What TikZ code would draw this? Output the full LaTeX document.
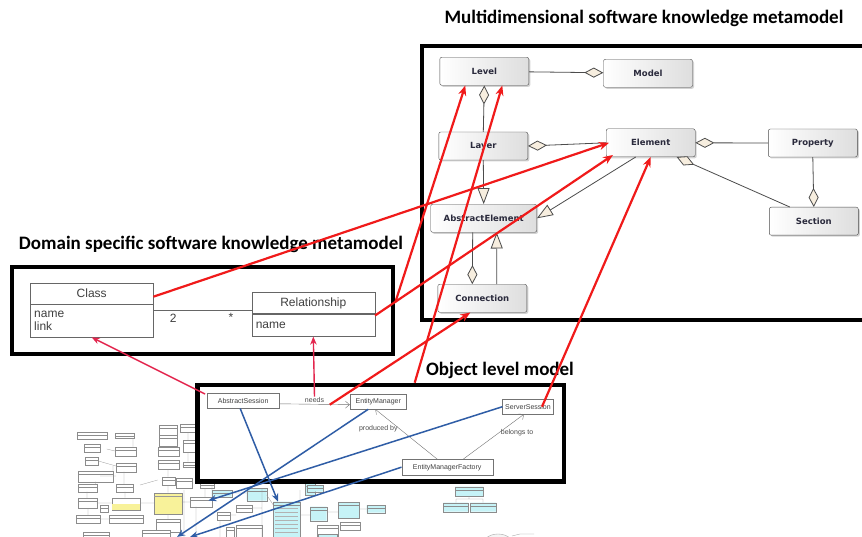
\documentclass[tikz,border=0pt]{standalone}
\usepackage{fontspec}
\usepackage{xcolor}
\usepackage{tikz}
\usetikzlibrary{arrows.meta, positioning, shadows}
\newfontfamily\hdfont{Carlito}
\newfontfamily\umlfnt{Liberation Sans}
\newfontfamily\mmfont{DejaVu Sans}
\definecolor{mmred}{HTML}{F01A1A}
\definecolor{mmpink}{HTML}{E3264E}
\definecolor{mmblue}{HTML}{2F5DA6}
\definecolor{mmbeige}{HTML}{F7EEDF}
\definecolor{mmtext}{HTML}{2A2A3C}
\definecolor{clcyan}{HTML}{C6F3F7}
\definecolor{clyellow}{HTML}{F8F29A}
\tikzset{
  heading/.style  = {font=\hdfont\bfseries\fontsize{19}{19}\selectfont,
                     inner sep=0pt},
  panel/.style    = {draw, line width=4pt, fill=white, inner sep=0pt},
  mmclass/.style  = {rectangle, rounded corners=2pt, draw=black!70, thin,
                     left color=white, right color=black!13,
                     drop shadow={shadow xshift=1.5pt, shadow yshift=-1.5pt,
                                  opacity=0.35},
                     minimum width=89pt, minimum height=28pt,
                     font=\mmfont\bfseries\fontsize{8.5}{9}\selectfont,
                     text=mmtext},
  aggr/.style     = {draw=black!70, line width=0.8pt,
                     -{Diamond[length=19pt,width=10pt,fill=mmbeige]}},
  gen/.style      = {draw=black!70, line width=0.8pt,
                     -{Triangle[length=16pt,width=12pt,fill=mmbeige]}},
  umlhead/.style  = {rectangle, draw=black!60, minimum width=123pt,
                     minimum height=20.7pt, inner sep=0pt,
                     font=\umlfnt\fontsize{12}{13}\selectfont, text=black!75},
  umlattr/.style  = {rectangle, draw=black!60, minimum width=123pt,
                     text width=115pt, inner xsep=4pt, inner ysep=2pt,
                     align=left, font=\umlfnt\fontsize{12}{13}\selectfont,
                     text=black!75},
  objcls/.style   = {rectangle, draw=black!55, inner sep=0pt,
                     font=\umlfnt\fontsize{7}{7}\selectfont, text=black!75},
  objlink/.style  = {draw=black!55, thin,
                     -{Straight Barb[length=4pt,width=7pt]}},
  linklbl/.style  = {font=\umlfnt\fontsize{7}{7}\selectfont, text=black!70,
                     inner sep=1pt},
  redarrow/.style = {draw=mmred, line width=2.2pt,
                     -{Stealth[length=10pt,width=8pt]}},
  pinkarrow/.style= {draw=mmpink, line width=1.4pt,
                     -{Stealth[length=8pt,width=6.5pt]}},
  bluearrow/.style= {draw=mmblue, line width=1.5pt,
                     -{Stealth[length=8pt,width=6.5pt]}},
  tinybox/.style  = {draw=black!45, line width=0.3pt, fill=white},
  tinyline/.style = {draw=black!40, line width=0.3pt},
}

\begin{document}
\begin{tikzpicture}[x=1pt, y=-1pt]
  \path[use as bounding box] (0,0) rectangle (862,537);
  \clip (0,0) rectangle (862,537);

  % background class diagram (object level, full size)
  \foreach \xa/\ya/\xb/\yb in {76.7/431.7/106.7/439.3, 115/432.7/134/438.3,
      84/444.3/100/452.3, 115/446.7/136/456, 85/456.7/98.3/465.3,
      116/462.7/136/471.7, 78.3/470.7/113.3/481.7, 78.3/484/96.7/491.7,
      116/484.3/133.3/491.7, 78.3/498.3/96.7/508.3, 76/515/100/523.3,
      109.3/515/142.7/523.3, 83.3/531.7/109.3/540, 159.3/425/177.3/435,
      159.3/435/177.3/446, 157.7/447.3/179.3/455.7, 157.7/460/179.3/469.3,
      161.7/476.7/175/485, 176/478.3/191.7/488.3, 156/519.3/180/531.7,
      182.7/461.7/196.7/466.7, 190/497/211.7/506.7, 216.7/511.7/230/520,
      316.7/525/338.3/536.7, 200/482/214/488, 236/505/252/512,
      142/530/170/540, 236/525/262/540, 180/424/196/432, 183/440/196/452,
      100/505/108/512, 226/527/234/537, 340/522/360/530}
    \draw[tinybox] (\xa,\ya) rectangle (\xb,\yb)
      (\xa,\ya+3) -- (\xb,\ya+3);
  \foreach \xa/\ya/\xb/\yb in {211.7/490/231.7/496.7, 246.7/488.3/266.7/500.7,
      273.3/501.7/300/540, 305/483.3/315/495, 306.7/485/323/491.7,
      310/506.7/326.7/520.7, 338.3/502.3/359.3/518.3, 366.7/505/385/512.7,
      455/486.7/483.3/496, 443.3/502.7/468.3/511.7, 470/502.7/496/511.7,
      318/534/337/540}
    \draw[tinybox, fill=clcyan] (\xa,\ya) rectangle (\xb,\yb)
      (\xa,\ya+3) -- (\xb,\ya+3);
  \foreach \yy in {508,512,516,520,524,528,532}
    \draw[tinyline, black!30] (275,\yy) -- (298,\yy);
  \draw[tinybox] (111.7,497.7) rectangle (140,510);
  \fill[clyellow] (112,503.5) rectangle (139.7,509.7);
  \draw[tinybox, fill=clyellow] (154.3,492.7) rectangle (181.7,514);
  \draw[tinyline] (154.3,495.7) -- (181.7,495.7);
  \draw[tinyline] (96.7,503) -- (111.7,503) (140,503) -- (154.3,503)
    (181.7,502) -- (190,502) (95.8,481.7) -- (95.8,484) (87,491.7) -- (87,498.3)
    (124,471.7) -- (124,484.3) (168,485) -- (168,492.7) (168,514) -- (168,519.3)
    (125,491.7) -- (125,497.7) (88,508.3) -- (88,515) (100,519) -- (109.3,519)
    (98.3,461) -- (116,466) (106.7,449) -- (115,451) (168,469.3) -- (168,476.7)
    (184,490) -- (184,537) (205,488) -- (205,497) (196,506.7) -- (196,537)
    (231.7,493) -- (246.7,493) (266.7,495) -- (273.3,505) (300,515) -- (310,515)
    (326.7,512) -- (338.3,512) (359.3,509) -- (366.7,509) (469,496) -- (469,499)
    (456,499) -- (483,499) (456,499) -- (456,502.7) (483,499) -- (483,502.7)
    (220,520) -- (220,537) (262,488) -- (262,537) (300,490) -- (300,501.7)
    (113,466) -- (113,470.7) (133,438.3) -- (133,446.7) (188,432) -- (188,440)
    (188,452) -- (188,461.7) (230,515) -- (236,515) (252,508) -- (262,508)
    (212,486) -- (212,490) (140,485) -- (157.7,480) (100,476) -- (116,476);
  \draw[black!35, fill=black!4] (498,548) ellipse (17pt and 14pt);
  \draw[tinyline] (512,536) -- (520,534) -- (534,534);

  % titles
  \node[heading] (mmtitle) at (644,18) {Multidimensional software knowledge metamodel};
  \node[heading] (dstitle) at (211,244) {Domain specific software knowledge metamodel};
  \node[heading] (oltitle) at (500,370) {Object level model};

  % multidimensional metamodel
  \node[panel, minimum width=450pt, minimum height=274pt] (mmpanel) at (647,183) {};
  \node[mmclass] (level)    at (484.3,71.3)  {Level};
  \node[mmclass] (model)    at (648,73.3)    {Model};
  \node[mmclass] (layer)    at (483.3,146)   {Layer};
  \node[mmclass] (element)  at (650.7,142.8) {Element};
  \node[mmclass] (property) at (812.8,143)   {Property};
  \node[mmclass, minimum width=106pt] (abselem) at (483.7,218.3) {AbstractElement};
  \node[mmclass] (section)  at (813.8,221.2) {Section};
  \node[mmclass] (connection) at (482.3,298.3) {Connection};

  \draw[aggr] (level) -- (model);
  \draw[aggr] (layer.north) -- (level.south);
  \draw[aggr] (element.west) -- (layer.east);
  \draw[gen] (layer.south) -- (abselem.north);
  \draw[gen] ([xshift=-15pt]element.south) -- (abselem.east);
  \draw[aggr] (property.west) -- (element.east);
  \draw[aggr] ([xshift=-24pt]section.north) -- ([xshift=26pt]element.south);
  \draw[aggr] (property.south) -- (section.north);
  \draw[aggr] ([xshift=-11pt]abselem.south) -- ([xshift=-10pt]connection.north);
  \draw[gen] ([xshift=14.5pt]connection.north) -- ([xshift=13pt]abselem.south);

  % domain specific metamodel
  \node[panel, minimum width=381pt, minimum height=87.3pt] (dspanel) at (202.8,310.3) {};
  \node[umlhead] (classhead) at (91.7,293.7) {Class};
  \node[umlattr, below=0pt of classhead, minimum height=32.7pt] (classattr) {name\\link};
  \node[umlhead] (relhead) at (313.3,303) {Relationship};
  \node[umlattr, below=0pt of relhead, minimum height=22.7pt] (relattr) {name};
  \draw[black!60] ([yshift=-6pt]classattr.north east) -- ([yshift=-6pt]classattr.north east -| relhead.west);
  \node[font=\umlfnt\fontsize{12}{12}\selectfont, text=black!75] (mult2) at (173.3,318.3) {2};
  \node[font=\umlfnt\fontsize{12}{12}\selectfont, text=black!75] (multn) at (231,317) {*};

  % object level model
  \node[panel, line width=4.5pt, minimum width=366.7pt, minimum height=96.7pt] (olpanel) at (380.7,433.3) {};
  \node[objcls, minimum width=71.7pt, minimum height=15pt] (asession) at (243.2,400.8) {AbstractSession};
  \node[objcls, minimum width=56.7pt, minimum height=14.7pt] (emanager) at (378.3,401.7) {EntityManager};
  \node[objcls, minimum width=50.7pt, minimum height=14.7pt] (ssession) at (528,406.7) {ServerSession};
  \node[objcls, minimum width=91pt, minimum height=15.7pt] (emfactory) at (447.2,467.2) {EntityManagerFactory};
  \draw[objlink] ([yshift=-3pt]asession.east) -- node[linklbl, above] (needs) {needs} ([yshift=-3pt]emanager.west);
  \coordinate (needsend) at ([xshift=-20pt,yshift=-3pt]emanager.west);
  \draw[objlink] ([xshift=-10pt]emfactory.north) -- node[linklbl, pos=0.62, left] (producedby) {produced by} ([xshift=-3pt]emanager.south);
  \draw[objlink] ([xshift=16pt]emfactory.north) -- node[linklbl, pos=0.6, right] (belongsto) {belongs to} ([xshift=-4pt]ssession.south);

  % targets in the background diagram
  \coordinate (tgtcls)  at (278,501.7);
  \coordinate (tgtsess) at (208.5,500.5);
  \coordinate (tgtmgr)  at (177,537);
  \coordinate (tgtfac)  at (190,537);

  % blue: model elements to their classes
  \draw[bluearrow] ([xshift=-3pt]asession.south) -- (tgtcls);
  \draw[bluearrow] (ssession.west) -- (tgtsess);
  \draw[bluearrow] ([xshift=-10pt]emanager.south) -- (tgtmgr);
  \draw[bluearrow] (emfactory.west) -- (tgtfac);

  % pink: object level to domain metamodel
  \draw[pinkarrow] ([xshift=-2pt,yshift=-1pt]asession.north west) -- (classattr.south);
  \draw[pinkarrow] (needs.north) -- (relattr.south);

  % red: domain and object level to multidimensional metamodel
  \draw[redarrow] ([yshift=-3pt]classhead.east) -- ([xshift=3pt]element.west);
  \draw[redarrow] ([yshift=-2pt]relattr.north east) -- ([xshift=7pt,yshift=2pt]element.south west);
  \draw[redarrow] ([yshift=8pt]dspanel.east) -- ([xshift=-19pt]level.south);
  \draw[redarrow] ([xshift=34pt]olpanel.north) -- ([xshift=18pt]level.south);
  \draw[redarrow] (needsend) -- ([xshift=-12pt]connection.south);
  \draw[redarrow] ([xshift=14pt]ssession.center) -- (element.south);
\end{tikzpicture}
\end{document}
